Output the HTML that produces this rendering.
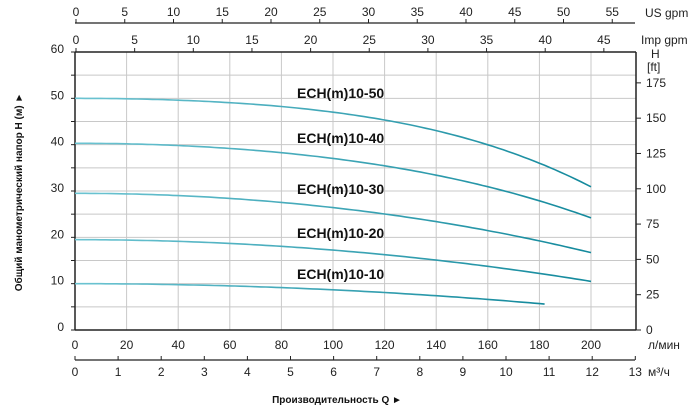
<!DOCTYPE html>
<html><head><meta charset="utf-8"><style>
html,body{margin:0;padding:0;background:#fff;}
svg{display:block;font-family:"Liberation Sans",Arial,sans-serif;}
</style></head><body>
<svg id="s" width="700" height="407" viewBox="0 0 700 407" xmlns="http://www.w3.org/2000/svg"></svg>
<script>
const s=document.getElementById('s');let h='';
const X0=75,PX=2.58,Y0=330,PY=278/60;
const X=q=>X0+q*PX, Y=m=>Y0-m*PY;
for(let q=20;q<=200;q+=20)h+=`<line x1="${X(q)}" y1="52" x2="${X(q)}" y2="330" stroke="#c8c8c8" stroke-width="1"/>`;
for(let m=5;m<60;m+=5)h+=`<line x1="75" y1="${Y(m)}" x2="636" y2="${Y(m)}" stroke="#c8c8c8" stroke-width="1"/>`;
h+=`<line x1="75" y1="52" x2="636" y2="52" stroke="#222" stroke-width="1.5"/>`;
h+=`<line x1="75" y1="330" x2="636" y2="330" stroke="#222" stroke-width="1.5"/>`;
h+=`<line x1="75" y1="52" x2="75" y2="330" stroke="#222" stroke-width="1.5"/>`;
h+=`<line x1="636" y1="52" x2="636" y2="330" stroke="#222" stroke-width="1.5"/>`;
for(let m=0;m<=60;m+=5){h+=`<line x1="71" y1="${Y(m)}" x2="75" y2="${Y(m)}" stroke="#222"/>`;if(m%10==0)h+=`<text x="64" y="${Y(m)+1}" font-size="12" text-anchor="end" fill="#222">${m}</text>`;}
for(let f=0;f<=175;f+=25){const y=Y0-f*0.3048*PY;h+=`<line x1="636" y1="${y}" x2="641" y2="${y}" stroke="#222"/><text x="646" y="${y+4}" font-size="12" fill="#222">${f}</text>`;}
h+=`<text x="651" y="58" font-size="12" fill="#222">H</text><text x="647" y="71" font-size="12" fill="#222">[ft]</text>`;
for(let q=0;q<=200;q+=20)h+=`<text x="${X(q)}" y="349" font-size="12" text-anchor="middle" fill="#222">${q}</text>`;
h+=`<text x="648" y="349" font-size="12" fill="#222">л/мин</text>`;
const M=43.1;h+=`<line x1="75" y1="360" x2="635" y2="360" stroke="#222" stroke-width="1.2"/>`;
for(let i=0;i<=13;i++){const x=75+i*M;h+=`<line x1="${x}" y1="356" x2="${x}" y2="360" stroke="#222"/><text x="${x}" y="376" font-size="12" text-anchor="middle" fill="#222">${i}</text>`;}
h+=`<text x="648" y="376" font-size="12" fill="#222">м³/ч</text>`;
const U=9.75;h+=`<line x1="75" y1="23" x2="635" y2="23" stroke="#222" stroke-width="1.2"/>`;
for(let g=0;g<=55;g+=5){const x=76+g*U;h+=`<line x1="${x}" y1="19" x2="${x}" y2="23" stroke="#222"/><text x="${x}" y="16" font-size="12" text-anchor="middle" fill="#222">${g}</text>`;}
h+=`<text x="645" y="17" font-size="12" fill="#222">US gpm</text>`;
const I=11.73;
for(let g=0;g<=45;g+=5){const x=76+g*I;h+=`<line x1="${x}" y1="48" x2="${x}" y2="52" stroke="#222"/><text x="${x}" y="44" font-size="12" text-anchor="middle" fill="#222">${g}</text>`;}
h+=`<text x="641" y="44" font-size="12" fill="#222">Imp gpm</text>`;
// [H0, Hend, qmax, alpha] f(t)=alpha t^2 + (1-alpha) t^4
const cs=[[50,30.9,200,0.5],[40.3,24.2,200,0.75],[29.5,16.7,200,0.95],[19.5,10.5,200,1],[10,5.6,182,1]];
h+=`<defs><linearGradient id="g" x1="0" x2="1"><stop offset="0" stop-color="#6cc4d2"/><stop offset="1" stop-color="#13899c"/></linearGradient></defs>`;
for(const [a,b,qm,al] of cs){let d='';for(let q=0;q<=qm;q+=2){const t=q/qm;const f=al*t*t+(1-al)*t*t*t*t;d+=(q?'L':'M')+X(q).toFixed(1)+','+Y(a-(a-b)*f).toFixed(1);}
h+=`<path d="${d}" fill="none" stroke="url(#g)" stroke-width="1.6"/>`;}
const L=[['50',98],['40',143],['30',194],['20',238],['10',279]];
for(const [n,y] of L)h+=`<text x="297" y="${y}" font-size="14" font-weight="bold" fill="#111">ECH(m)10-${n}</text>`;
h+=`<text transform="translate(22,192) rotate(-90)" font-size="10" font-weight="bold" text-anchor="middle" fill="#111">Общий манометрический напор H (м)  ►</text>`;
h+=`<text x="337" y="403" font-size="10" font-weight="bold" text-anchor="middle" fill="#111">Производительность Q  ►</text>`;
s.innerHTML=h;
</script>
</body></html>
